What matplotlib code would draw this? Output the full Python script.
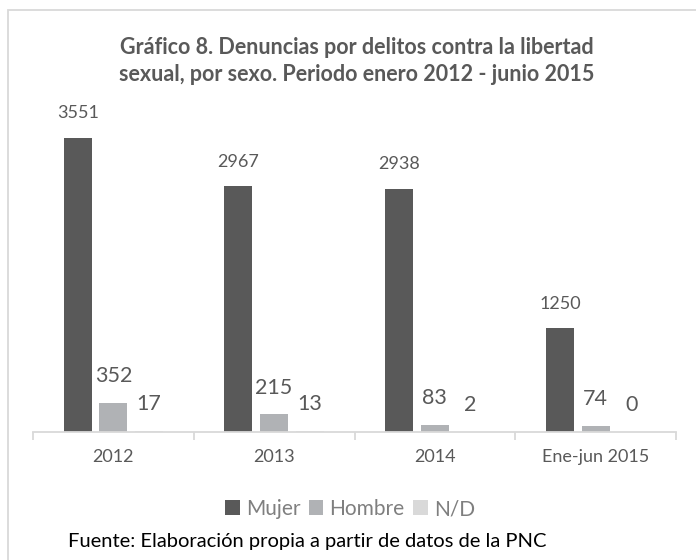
import matplotlib
matplotlib.use("Agg")
import matplotlib.pyplot as plt
import numpy as np
from matplotlib.patches import Rectangle, Patch

categories = ["2012", "2013", "2014", "Ene-jun 2015"]
mujer = [3551, 2967, 2938, 1250]
hombre = [352, 215, 83, 74]
nd = [17, 13, 2, 0]
series_names = ["Mujer", "Hombre", "N/D"]
colors = ["#595959", "#B0B2B5", "#D9D9D9"]

plt.rcParams['font.family'] = ['Lato', 'DejaVu Sans']

W, H = 696, 560
fig = plt.figure(figsize=(W/100, H/100), dpi=100)

# outer frame
fig.patches.append(Rectangle((8/W, 0 - 0.01), 1.0, 1 - 10/H + 0.01, transform=fig.transFigure,
                             fill=False, edgecolor="#D9D9D9", linewidth=1.3, clip_on=False))

ax = fig.add_axes([33/W, 1 - 432/H, 643/W, (432 - 100.6)/H])
x = np.arange(len(categories))
offs = [-0.222, 0.0, 0.222]
width = 0.174
label_sizes = [13, 15.5, 15.5]
for vals, off, col, name, fs in zip([mujer, hombre, nd], offs, colors, series_names, label_sizes):
    bars = ax.bar(x + off, vals, width=width, color=col, label=name, zorder=2)
    for b, v in zip(bars, vals):
        ax.annotate(str(v), (b.get_x() + b.get_width()/2, v), xytext=(0, 12),
                    textcoords="offset points", ha="center", va="bottom",
                    fontsize=fs, color="#595959")

ax.set_xlim(-0.5, len(categories) - 0.5)
ax.set_ylim(0, 4000)
ax.set_yticks([])
for s in ["top", "right", "left"]:
    ax.spines[s].set_visible(False)
ax.spines["bottom"].set_color("#D9D9D9")
ax.spines["bottom"].set_linewidth(1.3)
ax.set_xticks(x)
ax.set_xticklabels(categories, fontsize=13, color="#595959")
ax.tick_params(axis="x", length=0, pad=12)
ax.set_xticks(np.arange(-0.5, len(categories)), minor=True)
ax.tick_params(axis="x", which="minor", length=6, color="#D9D9D9", width=1.3)

fig.text(357/W, 1 - 61/H, "Gráfico 8. Denuncias por delitos contra la libertad\nsexual, por sexo. Periodo enero 2012 - junio 2015",
         ha="center", va="center", fontsize=15.5, fontweight="bold", color="#595959", linespacing=1.35)

handles = [Patch(facecolor=c, edgecolor="none") for c in colors]
fig.legend(handles, series_names, loc="center", bbox_to_anchor=(350/W, 1 - 509/H), ncol=3,
           frameon=False, fontsize=15, handlelength=0.7, handleheight=0.7, handletextpad=0.3,
           columnspacing=0.4, labelcolor="#7F7F7F")

fig.text(68/W, 1 - 541/H, "Fuente: Elaboración propia a partir de datos de la PNC",
         ha="left", va="center", fontsize=14.5, color="#000000")

fig.savefig("out.png", dpi=100)
